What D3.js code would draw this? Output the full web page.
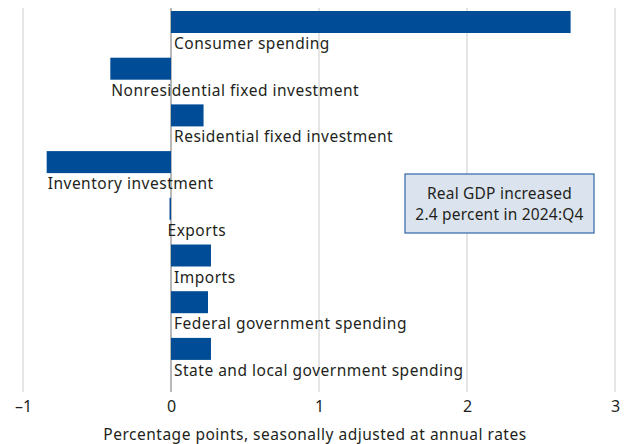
<!DOCTYPE html>
<html>
<head>
<meta charset="utf-8">
<script src="https://cdn.jsdelivr.net/npm/d3@7"></script>
<style>
  html, body { margin: 0; padding: 0; background: #fff; }
  svg { display: block; font-family: "Noto Sans", sans-serif; }
</style>
</head>
<body>
<svg id="chart" width="624" height="444"></svg>
<script>
// Contributions to percent change in real GDP, 2024:Q4
const categories = [
  "Consumer spending",
  "Nonresidential fixed investment",
  "Residential fixed investment",
  "Inventory investment",
  "Exports",
  "Imports",
  "Federal government spending",
  "State and local government spending"
];
const contributions = [2.70, -0.41, 0.22, -0.84, -0.01, 0.27, 0.25, 0.27];
const xTicks = [-1, 0, 1, 2, 3];
const axisTitle = "Percentage points, seasonally adjusted at annual rates";
const noteLines = ["Real GDP increased", "2.4 percent in 2024:Q4"];

const svg = d3.select("#chart");
const textColor = "#231f20";
const barColor = "#004c97";

const x = d3.scaleLinear().domain([-1, 3]).range([23, 615]);
const y = d3.scaleBand().domain(categories).range([8, 381.6]).padding(0);

const gridTop = 8, gridBottom = 392;

// vertical gridlines
svg.append("g")
  .selectAll("line")
  .data(xTicks.filter(t => t !== 0))
  .join("line")
  .attr("x1", d => x(d)).attr("x2", d => x(d))
  .attr("y1", gridTop).attr("y2", gridBottom)
  .attr("stroke", "#dcdcdc")
  .attr("stroke-width", 1.5);

// zero line
svg.append("line")
  .attr("x1", x(0)).attr("x2", x(0))
  .attr("y1", gridTop).attr("y2", gridBottom)
  .attr("stroke", "#b8b8b8")
  .attr("stroke-width", 2);

const rows = categories.map((c, i) => ({ name: c, value: contributions[i] }));

// bars
svg.append("g")
  .selectAll("rect")
  .data(rows)
  .join("rect")
  .attr("x", d => x(Math.min(0, d.value)))
  .attr("width", d => Math.max(1, Math.abs(x(d.value) - x(0))))
  .attr("y", d => y(d.name) + 3)
  .attr("height", 22)
  .attr("fill", barColor);

// category labels under each bar
svg.append("g")
  .selectAll("text")
  .data(rows)
  .join("text")
  .attr("x", d => d.value < 0 ? x(Math.min(0, d.value)) + (d.value > -0.05 ? -2 : 1) : x(0) + 3)
  .attr("y", d => y(d.name) + 3 + 22 + 16)
  .attr("fill", textColor)
  .attr("font-size", 15.5)
  .attr("letter-spacing", 0.5)
  .text(d => d.name);

// x axis tick labels
const axis = d3.axisBottom(x)
  .tickValues(xTicks)
  .tickSize(0)
  .tickPadding(0)
  .tickFormat(d => d < 0 ? "\u2013" + Math.abs(d) : String(d));

const ax = svg.append("g")
  .attr("transform", `translate(0, ${gridBottom + 6})`)
  .call(axis);
ax.select(".domain").remove();
ax.selectAll("text")
  .attr("font-size", 16)
  .attr("font-family", "\"Noto Sans\", sans-serif")
  .attr("fill", textColor)
  .attr("dy", "0.9em");

// axis title
svg.append("text")
  .attr("x", 315)
  .attr("y", 440)
  .attr("text-anchor", "middle")
  .attr("font-size", 15.5)
  .attr("letter-spacing", 0.5)
  .attr("fill", textColor)
  .text(axisTitle);

// annotation box
const note = svg.append("g");
note.append("rect")
  .attr("x", 405).attr("y", 174)
  .attr("width", 189).attr("height", 59)
  .attr("fill", "#dbe4ee")
  .attr("stroke", "#2f65a7")
  .attr("stroke-width", 1.2);
note.selectAll("text")
  .data(noteLines)
  .join("text")
  .attr("x", 499.5)
  .attr("y", (d, i) => 199 + i * 21)
  .attr("text-anchor", "middle")
  .attr("font-size", 15.5)
  .attr("letter-spacing", 0.2)
  .attr("fill", textColor)
  .text(d => d);
</script>
</body>
</html>
